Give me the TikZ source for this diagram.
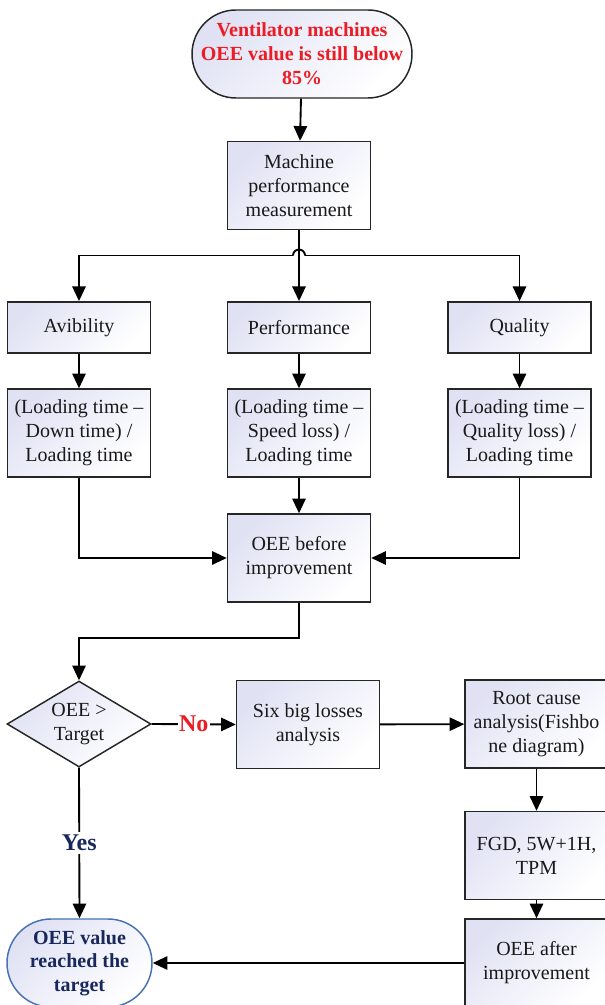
\documentclass[tikz,border=0pt]{standalone}
\usepackage{fontspec}
\setmainfont{Liberation Serif}
\usetikzlibrary{arrows.meta,shapes.geometric}

\definecolor{boxline}{RGB}{38,38,38}
\definecolor{boxtint}{RGB}{224,226,244}
\definecolor{alertred}{RGB}{235,28,36}
\definecolor{navy}{RGB}{24,40,92}
\definecolor{doneline}{RGB}{72,112,182}

\tikzset{every picture/.style={line width=0.75pt}}
\tikzset{
	boxfont/.style={font=\fontsize{15}{18}\selectfont},
	box/.style={draw=boxline, line width=1.1pt, top color=boxtint, bottom color=white, shading angle=45,
		minimum width=107.25pt, minimum height=66pt, inner sep=2pt, align=center, text=black!90, boxfont},
	lowbox/.style={box, minimum height=38.5pt},
	decision/.style={diamond, draw=boxline, line width=1.1pt, top color=boxtint, bottom color=white, shading angle=45,
		minimum width=108pt, minimum height=64.5pt, inner sep=0pt, aspect=1.67, align=center, text=black!90, boxfont},
	startterm/.style={box, rounded corners=33pt, minimum width=165pt, minimum height=66pt,
		text=alertred, font=\fontsize{15}{18}\selectfont\bfseries},
	endterm/.style={box, draw=doneline, rounded corners=33pt, minimum width=108.75pt, minimum height=66pt,
		text=navy, font=\fontsize{15}{17.6}\selectfont\bfseries},
	conn/.style={draw=black, line width=1.4pt, -{Triangle[length=11pt,width=10pt]}},
	plain/.style={draw=black, line width=1.4pt},
	nolabel/.style={fill=white, inner sep=1pt, text=alertred, font=\fontsize{18}{20}\selectfont\bfseries},
	yeslabel/.style={fill=white, inner sep=2pt, text=navy, font=\fontsize{18}{20}\selectfont\bfseries}
}

\begin{document}
\begin{tikzpicture}[x=0.75pt,y=0.75pt,yscale=-1,xscale=1]
	\useasboundingbox (0,0) rectangle (605,1005);
	\clip (0,0) rectangle (605,1005);

	%Terminal: start
	\node[startterm] (start) at (302,54) {Ventilator machines\\OEE value is still below\\85\%};
	%Process boxes
	\node[box] (mach) at (299,185.5) {Machine\\performance\\measurement};
	\node[lowbox] (avail) at (79,327.5) {Avibility};
	\node[lowbox] (perf) at (299,327.5) {Performance};
	\node[lowbox] (qual) at (519.5,327.5) {Quality};
	\node[box] (availf) at (79,433) {(Loading time --\\Down time) /\\Loading time};
	\node[box] (perff) at (299,433) {(Loading time --\\Speed loss) /\\Loading time};
	\node[box] (qualf) at (519.5,433) {(Loading time --\\Quality loss) /\\Loading time};
	\node[box] (before) at (299,558) {OEE before\\improvement};
	%Decision
	\node[decision] (oee) at (79,724) {OEE >\\Target};
	\node[box] (six) at (308,724.5) {Six big losses\\analysis};
	\node[box] (root) at (536.5,724) {Root cause\\analysis(Fishbo\\ne diagram)};
	\node[box] (fgd) at (536.5,855.5) {FGD, 5W+1H,\\TPM};
	\node[box] (after) at (536.5,963) {OEE after\\improvement};
	%Terminal: end
	\node[endterm] (done) at (79.5,963) {OEE value\\reached the\\target};

	%Connectors
	\coordinate (bus) at (299,255.5);
	\draw[conn] (start) -- (mach);
	\draw[conn] (mach.south) -- (perf.north);
	\draw[conn] ([xshift=-4.5pt]bus) -| (avail.north);
	\draw[conn] ([xshift=4.5pt]bus) -| (qual.north);
	\draw[plain] ([xshift=-4.5pt]bus) arc[start angle=180, end angle=360, radius=6];
	\draw[conn] (avail) -- (availf);
	\draw[conn] (perf) -- (perff);
	\draw[conn] (qual) -- (qualf);
	\draw[conn] (perff) -- (before);
	\draw[conn] (availf.south) |- (before.west);
	\draw[conn] (qualf.south) |- (before.east);
	\draw[conn] (before.south) -- ++(0,35) -| (oee.north);
	\draw[conn] (oee.east) -- node[nolabel] (no) {No} (six.west);
	\draw[conn] (oee.south) -- node[yeslabel] (yes) {Yes} (done.north);
	\draw[conn] (six) -- (root);
	\draw[conn] (root) -- (fgd);
	\draw[conn] (fgd) -- (after);
	\draw[conn] (after) -- (done);

\end{tikzpicture}
\end{document}
